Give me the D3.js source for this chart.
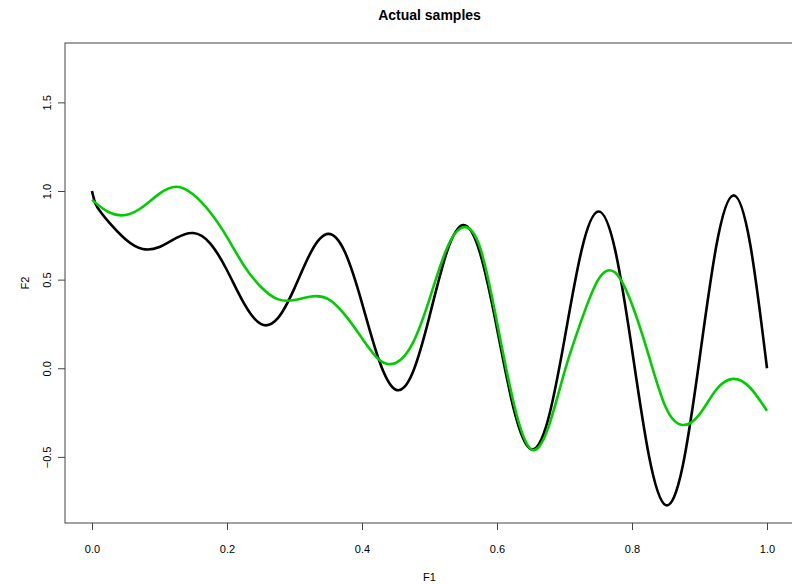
<!DOCTYPE html>
<html>
<head>
<meta charset="utf-8">
<script src="https://cdn.jsdelivr.net/npm/d3@7"></script>
<style>
  body { margin: 0; background: #fff; }
  svg { font-family: "Liberation Sans", Arial, sans-serif; }
</style>
</head>
<body>
<svg id="chart" width="792" height="584"></svg>
<script>
// F1 positions of the sampled points
const f1Actual = [0, 0.005, 0.0125, 0.025, 0.05, 0.075, 0.1, 0.125, 0.15, 0.175, 0.2, 0.225, 0.25, 0.275, 0.3,
  0.325, 0.35, 0.375, 0.4, 0.425, 0.45, 0.475, 0.5, 0.525, 0.55, 0.575, 0.6, 0.625, 0.65, 0.675, 0.7,
  0.725, 0.75, 0.775, 0.8, 0.825, 0.85, 0.875, 0.9, 0.925, 0.95, 0.975, 1.0];
// black curve
const f2Actual = [1.0, 0.93, 0.883, 0.824, 0.726, 0.673, 0.684, 0.735, 0.763, 0.705, 0.553, 0.367, 0.25, 0.281, 0.452,
  0.66, 0.758, 0.653, 0.368, 0.048, -0.121, -0.025, 0.293, 0.647, 0.808, 0.648, 0.225, -0.233, -0.456, -0.299, 0.163,
  0.661, 0.884, 0.668, 0.106, -0.492, -0.772, -0.554, 0.051, 0.692, 0.975, 0.702, 0.0];

const f1Sample = [0, 0.025, 0.05, 0.075, 0.1, 0.125, 0.15, 0.175, 0.2, 0.225, 0.25, 0.275, 0.3,
  0.325, 0.35, 0.375, 0.4, 0.425, 0.45, 0.475, 0.5, 0.525, 0.55, 0.575, 0.6, 0.625, 0.65, 0.675, 0.7,
  0.725, 0.75, 0.775, 0.8, 0.825, 0.85, 0.875, 0.9, 0.925, 0.95, 0.975, 1.0];
// green curve
const f2Sample = [0.95, 0.88, 0.865, 0.91, 0.985, 1.024, 0.98, 0.88, 0.74, 0.58, 0.46, 0.39, 0.385,
  0.405, 0.39, 0.3, 0.17, 0.05, 0.03, 0.14, 0.39, 0.67, 0.795, 0.68, 0.26, -0.2, -0.455, -0.345, -0.02,
  0.27, 0.5, 0.54, 0.36, 0.07, -0.22, -0.32, -0.26, -0.12, -0.06, -0.11, -0.24];

const xTicks = [0, 0.2, 0.4, 0.6, 0.8, 1.0];
const yTicks = [-0.5, 0, 0.5, 1.0, 1.5];

const svg = d3.select('#chart');
const mLeft = 65, mRight = 794, mTop = 43, mBottom = 523;

const x = d3.scaleLinear().domain([-0.04, 1.04]).range([mLeft, mRight]);
const y = d3.scaleLinear().domain([-0.873, 1.835]).range([mBottom, mTop]);

// title
svg.append('text')
  .attr('x', (mLeft + mRight) / 2).attr('y', 20)
  .attr('text-anchor', 'middle')
  .style('font-size', '14px').style('font-weight', 'bold')
  .text('Actual samples');

// curves
const line = d3.line()
  .x((d) => x(d[0]))
  .y((d) => y(d[1]))
  .curve(d3.curveNatural);

svg.append('path')
  .datum(d3.zip(f1Actual, f2Actual))
  .attr('d', line)
  .attr('fill', 'none')
  .attr('stroke', '#000')
  .attr('stroke-width', 2.6);

svg.append('path')
  .datum(d3.zip(f1Sample, f2Sample))
  .attr('d', line)
  .attr('fill', 'none')
  .attr('stroke', '#00cd00')
  .attr('stroke-width', 2.6);

// box
svg.append('rect')
  .attr('x', mLeft).attr('y', mTop)
  .attr('width', mRight - mLeft).attr('height', mBottom - mTop)
  .attr('fill', 'none').attr('stroke', '#444').attr('stroke-width', 1);

// x axis
const xAxis = svg.append('g').attr('transform', 'translate(0,' + mBottom + ')')
  .call(d3.axisBottom(x).tickValues(xTicks).tickFormat(d3.format('.1f')).tickSize(7).tickPadding(15));
xAxis.select('.domain').remove();
xAxis.selectAll('line').attr('stroke', '#444');
xAxis.selectAll('text').style('font-size', '11px').style('font-family', '"Liberation Sans", Arial, sans-serif').attr('fill', '#000');

// y axis
const yAxis = svg.append('g').attr('transform', 'translate(' + mLeft + ',0)')
  .call(d3.axisLeft(y).tickValues(yTicks).tickFormat(d3.format('.1f')).tickSize(7));
yAxis.select('.domain').remove();
yAxis.selectAll('line').attr('stroke', '#444');
yAxis.selectAll('text')
  .attr('x', null).attr('dy', null)
  .attr('text-anchor', 'middle')
  .attr('transform', 'translate(-14,0) rotate(-90)')
  .style('font-size', '11px').style('font-family', '"Liberation Sans", Arial, sans-serif').attr('fill', '#000');

// axis titles
svg.append('text')
  .attr('x', (mLeft + mRight) / 2).attr('y', 581)
  .attr('text-anchor', 'middle')
  .style('font-size', '11px')
  .text('F1');

svg.append('text')
  .attr('transform', 'translate(29,' + ((mTop + mBottom) / 2) + ') rotate(-90)')
  .attr('text-anchor', 'middle')
  .style('font-size', '11px')
  .text('F2');
</script>
</body>
</html>
